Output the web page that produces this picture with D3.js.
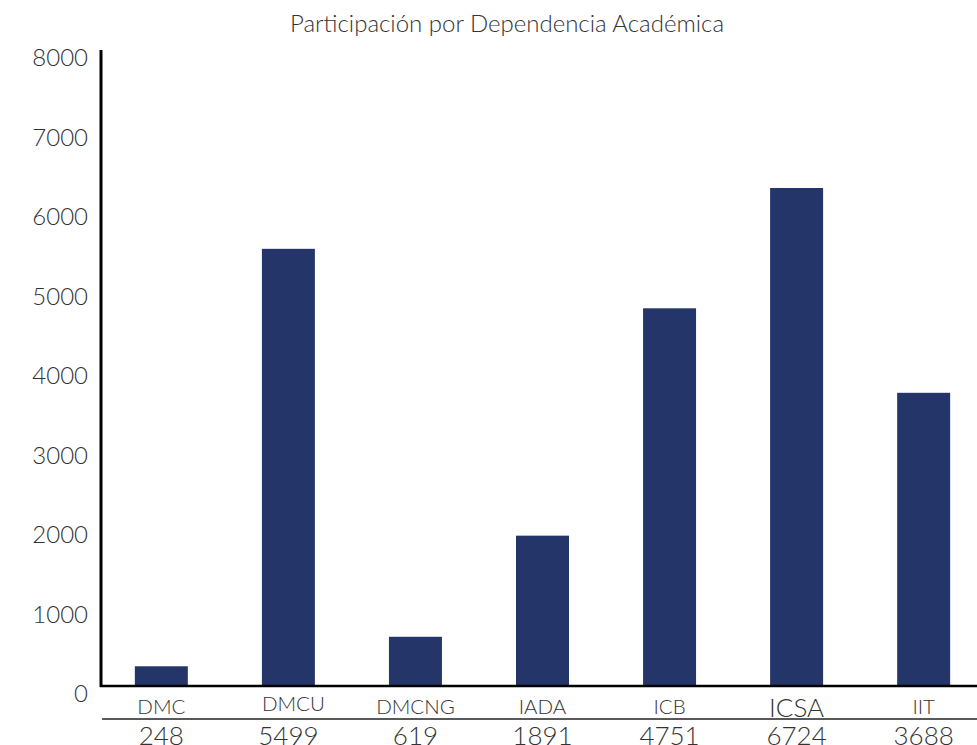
<!DOCTYPE html>
<html>
<head>
<meta charset="utf-8">
<script src="https://cdn.jsdelivr.net/npm/d3@7"></script>
<style>
  body { margin: 0; background: #fff; }
  text { font-family: Lato, "Open Sans", sans-serif; }
</style>
</head>
<body>
<script>
// data
const categories = ["DMC", "DMCU", "DMCNG", "IADA", "ICB", "ICSA", "IIT"];
const barValues = [248, 5499, 619, 1891, 4751, 6264, 3688];
const tableValues = ["248", "5499", "619", "1891", "4751", "6724", "3688"];
const yTicks = [0, 1000, 2000, 3000, 4000, 5000, 6000, 7000, 8000];

const W = 977, H = 745;
const BAR_COLOR = "#243569";

const svg = d3.select("body").append("svg")
  .attr("width", W)
  .attr("height", H);

const x = d3.scaleBand()
  .domain(categories)
  .range([98, 987])
  .paddingInner(0.583)
  .paddingOuter(0.29);

const y = d3.scaleLinear()
  .domain([0, 8000])
  .range([686, 50]);

// title
svg.append("text")
  .attr("x", 507)
  .attr("y", 32)
  .attr("text-anchor", "middle")
  .attr("font-size", 24)
  .attr("font-weight", 300)
  .attr("fill", "#333")
  .text("Participación por Dependencia Académica");

// bars
svg.append("g")
  .selectAll("rect")
  .data(categories)
  .join("rect")
  .attr("x", (d) => x(d))
  .attr("width", x.bandwidth())
  .attr("y", (d, i) => y(barValues[i]))
  .attr("height", (d, i) => y(0) - y(barValues[i]) + 1)
  .attr("fill", BAR_COLOR);

// y axis labels (sit a little below their tick value)
svg.append("g")
  .selectAll("text")
  .data(yTicks)
  .join("text")
  .attr("x", 88)
  .attr("y", (d) => y(d) + 8)
  .attr("dy", "0.35em")
  .attr("text-anchor", "end")
  .attr("font-size", 24)
  .attr("font-weight", 300)
  .attr("fill", "#333")
  .text((d) => d);

// axis lines
svg.append("line")
  .attr("x1", 101).attr("x2", 101)
  .attr("y1", 50).attr("y2", 687)
  .attr("stroke", "#000")
  .attr("stroke-width", 3);
svg.append("line")
  .attr("x1", 100).attr("x2", W)
  .attr("y1", 686).attr("y2", 686)
  .attr("stroke", "#000")
  .attr("stroke-width", 2.5);
svg.append("line")
  .attr("x1", 102).attr("x2", W)
  .attr("y1", 719).attr("y2", 719)
  .attr("stroke", "#222")
  .attr("stroke-width", 1.3);

// category row
svg.append("g")
  .selectAll("text")
  .data(categories)
  .join("text")
  .attr("x", (d) => x(d) + x.bandwidth() / 2 + (d === "DMCU" ? 5 : 0))
  .attr("y", (d) => (d === "ICSA" ? 717 : d === "DMCU" ? 711 : 714))
  .attr("text-anchor", "middle")
  .attr("font-size", (d) => (d === "ICSA" ? 26 : 20.5))
  .attr("font-weight", 300)
  .attr("fill", "#333")
  .text((d) => d);

// value row
svg.append("g")
  .selectAll("text")
  .data(categories)
  .join("text")
  .attr("x", (d) => x(d) + x.bandwidth() / 2)
  .attr("y", 745)
  .attr("text-anchor", "middle")
  .attr("font-size", 26)
  .attr("font-weight", 300)
  .attr("fill", "#333")
  .text((d, i) => tableValues[i]);
</script>
</body>
</html>
